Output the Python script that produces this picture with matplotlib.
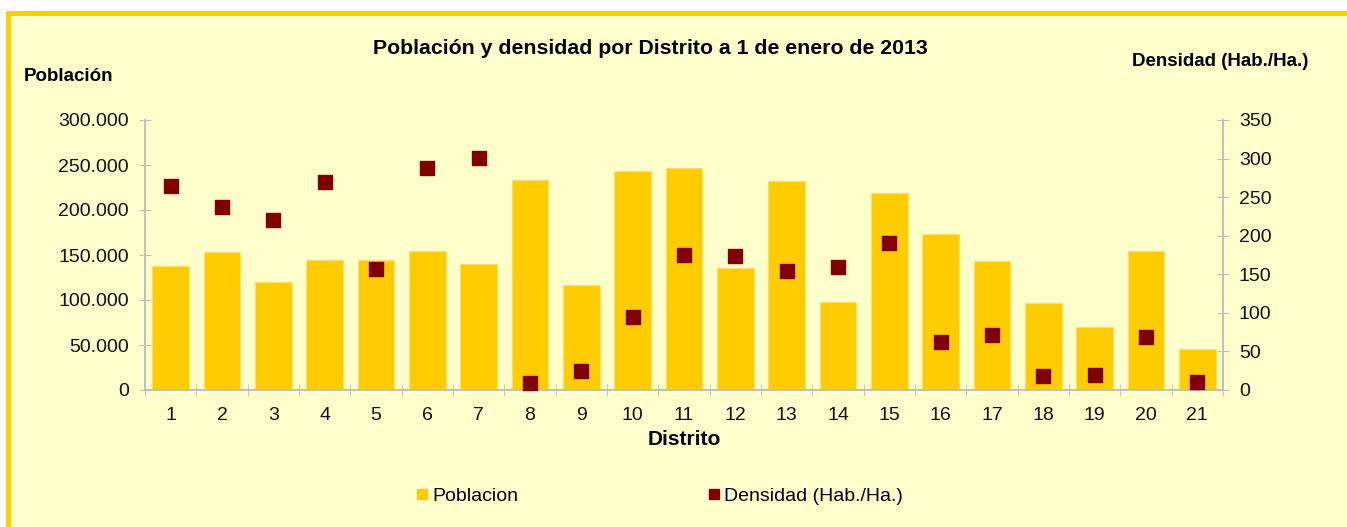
import matplotlib
matplotlib.use('Agg')
import matplotlib.pyplot as plt
from matplotlib.patches import Rectangle
from matplotlib.lines import Line2D
from matplotlib.ticker import FuncFormatter, MultipleLocator

# Data
distritos = list(range(1, 22))
poblacion = [138000, 153500, 119800, 144800, 144100, 154800, 140400, 233400,
             116300, 243000, 246700, 135200, 232200, 97400, 218500, 173300,
             143300, 96700, 69600, 154400, 45200]
densidad = [264, 237, 220, 270, 157, 288, 301, 9, 24, 95, 175, 174, 154, 160,
            191, 62, 71, 18, 19, 69, 10]

BG = '#FFFFCC'
BAR = '#FFCC00'
MARK = '#800000'
AXIS = '#BFBFBF'

plt.rcParams['font.family'] = ['Liberation Sans', 'DejaVu Sans']

fig = plt.figure(figsize=(13.47, 5.27), dpi=100)
fig.patch.set_facecolor('white')

# yellow frame with pale fill (runs off the right / bottom edge)
W, H = 1347, 527
frame = Rectangle((8 / W, -0.05), 1.1, 1 - 12.5 / H + 0.05,
                  transform=fig.transFigure, facecolor=BG, edgecolor=BAR,
                  linewidth=3.5, zorder=-5)
fig.patches.append(frame)

ax = fig.add_axes([145 / W, 1 - 390 / H, (1223 - 145) / W, 270 / H])
ax.set_facecolor('none')
ax2 = ax.twinx()

ax.bar(distritos, poblacion, width=0.72, color=BAR, edgecolor='#FFE066',
       linewidth=0.8, zorder=2)
ax2.scatter(distritos, densidad, marker='s', s=110, color=MARK, zorder=3,
            clip_on=False)

ax.set_xlim(0.5, 21.5)
ax.set_ylim(0, 300000)
ax2.set_ylim(0, 350)
ax.yaxis.set_major_locator(MultipleLocator(50000))
ax2.yaxis.set_major_locator(MultipleLocator(50))
ax.yaxis.set_major_formatter(
    FuncFormatter(lambda v, p: f'{int(v):,}'.replace(',', '.')))

ax.set_xticks(distritos)
ax.set_xticks([d + 0.5 for d in [0] + distritos], minor=True)
ax.tick_params(axis='x', which='major', length=0, pad=12, labelsize=14,
               colors='#111111')
ax.tick_params(axis='x', which='minor', length=9, direction='inout',
               color=AXIS)
ax.tick_params(axis='y', length=9, direction='inout', color=AXIS, pad=7,
               labelsize=14, labelcolor='#111111')
ax2.tick_params(axis='y', length=9, direction='inout', color=AXIS, pad=7,
                labelsize=14, labelcolor='#111111')

for a in (ax, ax2):
    a.spines['top'].set_visible(False)
    for s in ('left', 'right', 'bottom'):
        a.spines[s].set_color(AXIS)
        a.spines[s].set_linewidth(1.2)

ax.set_xlabel('Distrito', fontsize=15, fontweight='bold', labelpad=4.5)

fig.text(650 / W, 1 - 48 / H, 'Población y densidad por Distrito a 1 de enero de 2013',
         ha='center', va='center', fontsize=15.3, fontweight='bold')
fig.text(24 / W, 1 - 76 / H, 'Población', ha='left', va='center',
         fontsize=13.5, fontweight='bold')
fig.text(1308 / W, 1 - 62 / H, 'Densidad (Hab./Ha.)', ha='right', va='center',
         fontsize=13.5, fontweight='bold')

handles = [Line2D([], [], marker='s', ls='none', color=BAR, markersize=6.5),
           Line2D([], [], marker='s', ls='none', color=MARK, markersize=7.5)]
fig.legend(handles, ['Poblacion', 'Densidad (Hab./Ha.)'], ncol=2,
           loc='center left', bbox_to_anchor=(399 / W, 1 - 496 / H),
           frameon=False, fontsize=14, handlelength=0.6, handletextpad=0.2,
           columnspacing=9.8)

fig.savefig('out.png', dpi=100, facecolor=fig.get_facecolor())
